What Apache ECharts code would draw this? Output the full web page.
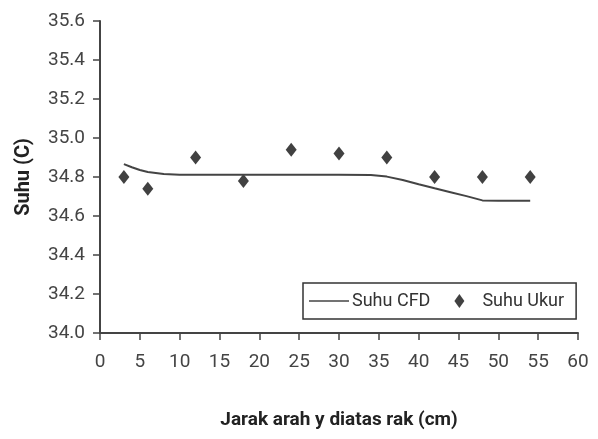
<!DOCTYPE html>
<html><head><meta charset="utf-8">
<script src="https://cdn.jsdelivr.net/npm/echarts@6/dist/echarts.min.js"></script>
<style>html,body{margin:0;padding:0;background:#fff}#c{width:598px;height:439px}</style>
</head><body><div id="c"></div>
<script>
const xTicks = [0,5,10,15,20,25,30,35,40,45,50,55,60];
const cfdX = [3,4,5,6,8,10,12,18,24,30,34,36,38,40,42,44,46,48,50,52,54];
const cfdY = [34.866,34.85,34.836,34.826,34.815,34.812,34.811,34.811,34.811,34.811,34.81,34.802,34.785,34.763,34.742,34.722,34.702,34.68,34.678,34.678,34.678];
const ukurX = [3,6,12,18,24,30,36,42,48,54];
const ukurY = [34.80,34.74,34.90,34.78,34.94,34.92,34.90,34.80,34.80,34.80];

const font = "Roboto,'Liberation Sans',Arial,sans-serif";
const chart = echarts.init(document.getElementById('c'));
chart.setOption({
  animation:false,
  backgroundColor:'#fff',
  grid:{left:100,right:20,top:21,bottom:106,containLabel:false},
  legend:{
    left:303, top:283,
    orient:'horizontal',
    borderColor:'#333', borderWidth:1.5, padding:[9,12,9,6],
    itemGap:24, itemWidth:40, itemHeight:14,
    symbolKeepAspect:true,
    textStyle:{fontFamily:font,fontSize:18,color:'#333',padding:[0,0,0,-2]},
    data:[
      {name:'Suhu CFD',icon:'path://M0,0 L40,0 L40,1.6 L0,1.6 Z'},
      {name:'Suhu Ukur',icon:'path://M5,0 L10,7 L5,14 L0,7 Z'}
    ]
  },
  xAxis:{
    type:'value', min:0, max:60, interval:5,
    name:'Jarak arah y diatas rak (cm)', nameLocation:'middle', nameGap:78,
    nameTextStyle:{fontFamily:font,fontSize:19,fontWeight:'bold',color:'#222'},
    axisLine:{lineStyle:{color:'#444',width:2}},
    axisTick:{show:true,inside:false,length:7,lineStyle:{color:'#444',width:1.5}},
    axisLabel:{fontFamily:font,fontSize:19,color:'#444',margin:20},
    splitLine:{show:false}
  },
  yAxis:{
    type:'value', min:34.0, max:35.6, interval:0.2,
    name:'Suhu (C)', nameLocation:'middle', nameGap:66, nameRotate:90,
    nameTextStyle:{fontFamily:font,fontSize:20,fontWeight:'bold',color:'#222'},
    axisLine:{show:true,onZero:false,lineStyle:{color:'#444',width:2}},
    axisTick:{show:true,inside:false,length:7,lineStyle:{color:'#444',width:1.5}},
    axisLabel:{fontFamily:font,fontSize:19,color:'#444',margin:15,formatter:v=>v.toFixed(1)},
    splitLine:{show:false}
  },
  series:[
    {name:'Suhu CFD',type:'line',showSymbol:false,symbol:'none',
     data:cfdX.map((x,i)=>[x,cfdY[i]]),
     lineStyle:{color:'#444',width:2},itemStyle:{color:'#444'}},
    {name:'Suhu Ukur',type:'scatter',symbol:'diamond',symbolSize:[11,14],
     data:ukurX.map((x,i)=>[x,ukurY[i]]),
     itemStyle:{color:'#111'}}
  ]
});
</script></body></html>
